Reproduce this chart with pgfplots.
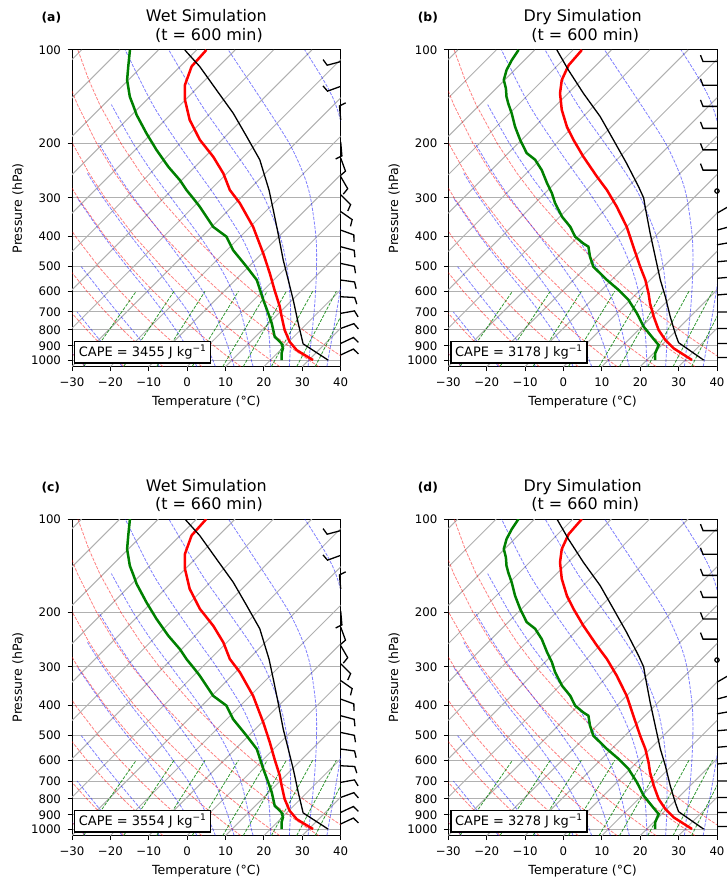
\documentclass[border=0pt]{standalone}
\usepackage{fontspec}
\setmainfont{DejaVu Sans}
\usepackage{pgfplots}
\usepackage{pgfplotstable}
\pgfplotsset{compat=1.18}

\definecolor{gridgray}{RGB}{176,176,176}
\definecolor{mplgreen}{RGB}{0,128,0}

% wind barb: shaft along +x, one feather at the tip
\pgfdeclareplotmark{barb}{%
  \pgfpathmoveto{\pgfpointorigin}%
  \pgfpathlineto{\pgfpoint{14bp}{0bp}}%
  \pgfpathlineto{\pgfpoint{16.5bp}{-6.5bp}}%
  \pgfusepathqstroke}

% skew-T: isotherms at 45 degrees, plotted x = T + 35.08*ln(1050/p)
\pgfplotsset{
  dryad/.style={red, opacity=0.5, line width=0.8bp, dash pattern=on 3.2bp off 1.4bp},
  moistad/.style={blue, opacity=0.5, line width=0.8bp, dash pattern=on 3.2bp off 1.4bp, smooth},
  mixr/.style={mplgreen, opacity=0.8, line width=0.8bp, dash pattern=on 3.2bp off 1.4bp},
  barbs/.style={scatter, only marks, mark=barb, point meta=explicit symbolic,
    mark options={black, solid, line width=1.3bp},
    scatter/@pre marker code/.code={\pgfscope\pgftransformrotate{\pgfplotspointmeta}},
    scatter/@post marker code/.code={\endpgfscope}},
  skewt/.style={scale only axis, width=268.7bp, height=316.6bp, anchor=south west,
    clip mode=individual,
    xmin=-30, xmax=40, ymin=100, ymax=1050, y dir=reverse,
    xtick={-30,-20,...,40}, xticklabels={−30,−20,−10,0,10,20,30,40},
    ytick={100,200,300,400,500,600,700,800,900,1000},
    yticklabels={100,200,300,400,500,600,700,800,900,1000},
    yminorticks=false, ymajorgrids, grid style={gridgray, line width=1bp},
    tick align=outside, xtick pos=left, ytick pos=left,
    major tick length=4.5bp, tick style={black, line width=1bp},
    axis line style={line width=1bp},
    tick label style={font=\fontsize{11.8}{14}\selectfont},
    xticklabel style={yshift=-3bp}, yticklabel style={xshift=-3bp},
    xlabel={Temperature (°C)}, ylabel={Pressure (hPa)},
    xlabel style={at={(axis description cs:0.5,-0.1105)}, anchor=center, font=\fontsize{12.6}{15}\selectfont},
    ylabel style={at={(axis description cs:-0.201,0.5)}, anchor=center, font=\fontsize{12.6}{15}\selectfont},
  },
}
\tikzset{
  capebox/.style={draw, line width=1.3bp, fill=white, anchor=south west, inner sep=0pt,
    minimum width=136bp, minimum height=21.6bp, xshift=2bp, yshift=3bp,
    font=\fontsize{13}{15}\selectfont},
  titletext/.style={anchor=base, font=\fontsize{16}{19}\selectfont},
  paneltag/.style={anchor=base west, xshift=-34bp, yshift=28bp,
    font=\bfseries\fontsize{12.4}{14}\selectfont},
}

% pressure levels, f = (p/1000)^0.2857, for the dry adiabats
\pgfplotstableread{
p f
1050 1.01404
1000 1.0
950 0.98545
900 0.97035
850 0.95462
800 0.93824
700 0.90312
600 0.86422
500 0.82034
400 0.76968
300 0.70895
250 0.67296
200 0.63139
150 0.58156
125 0.55205
100 0.51795
}\levtab

\pgfplotstableread{
p
1050
100
}\edgetab

% mixing ratio lines (0.4 ... 32 g/kg): dew point in degC
\pgfplotstableread{
p a b c d e f g h i
1050 -27.0 -16.55 -7.95 1.29 9.27 14.61 21.94 28.54 33.36
600 -32.9 -23.05 -14.96 -6.26 1.23 6.22 13.08 19.24 23.73
}\mixtab

% moist adiabats from -30,-20,-10,0,5,...,40 degC at 1000 hPa
\pgfplotstableread{
p a b c d e f g h i j k l
1050 -26.5 -16.9 -7.25 2.53 7.35 12.25 17.2 21.77 26.62 31.5 36.4 41.3
1000 -30 -20 -10 0 5 10 15 20 25 30 35 40
950 -33.35 -23.5 -13.0 -2.85 2.35 7.7 12.9 18.1 23.3 28.4 33.5 nan
850 nan -30.6 -19.95 -8.9 -3.3 2.45 8.25 13.99 19.52 24.97 30.32 nan
700 nan -42.9 -32.45 -20.47 -13.96 -7.15 -0.25 6.39 12.73 18.84 24.70 30.34
600 nan nan -42.2 -30.03 -23.29 -15.55 -7.85 -0.08 7.07 13.83 20.19 nan
500 nan nan -53.6 -41.65 -34.4 -26.3 -17.5 -8.39 -0.05 7.69 14.76 21.25
400 nan nan nan -55.5 -48.4 -40.0 -30.5 -19.75 -9.61 -0.30 7.91 nan
300 nan nan nan -72.6 -65.8 -57.85 -48.1 -36.28 -23.83 -11.80 -1.46 7.13
250 nan nan nan nan -76.3 -68.6 -59.25 -47.24 -34.07 -20.11 -7.91 nan
200 nan nan nan nan nan -81.2 -72.25 -60.57 -47.38 -31.57 -16.59 -4.83
150 nan nan nan nan nan nan -88.0 -77.23 -64.59 -48.08 -29.57 -14.27
125 nan nan nan nan nan nan nan nan nan nan -39.14 nan
100 nan nan nan nan nan nan nan -98.62 -87.26 -71.76 -51.84 -30.06
}\moisttab

% ---- wet simulation profiles (degC)
\pgfplotstableread{
p T
1000 31.09
963 27.54
929 24.25
873 20.22
800 15.86
725 11.63
673 8.54
594 2.77
525 -2.78
453 -9.66
372 -19.21
312 -28.84
283 -34.86
250 -40.92
221 -47.87
195 -55.74
168 -63.63
145 -70.01
130 -73.89
113 -77.04
100 -77.49
}\Twet

\pgfplotstableread{
p T
1000 22.89
951 21.12
916 20.18
883 18.48
841 15.02
762 10.80
706 7.19
640 2.47
552 -4.41
500 -10.54
442 -18.39
400 -23.62
372 -29.61
320 -38.41
301 -42.24
283 -46.16
263 -50.45
238 -56.98
210 -64.45
186 -71.29
162 -78.72
152 -81.76
141.5 -85.24
125 -90.30
113 -93.54
100 -97.39
}\Dwet

\pgfplotstableread{
p T
1000 34.99
887 24.30
762 17.70
640 10.27
552 3.79
475 -2.81
390 -11.06
328 -18.38
283 -24.66
226 -34.96
190 -44.48
160 -53.99
134.6 -64.41
113 -74.94
100 -83.09
}\Pwet

% barbs: pressure, shaft direction (deg)
\pgfplotstableread{
p a
109 195
131 200
168 95
198 -85
223 -70
256 -60
293 -45
332 -35
381 -20
431 -15
488 -12
552 -8
625 -3
707 10
791 20
884 25
963 25
}\Bwet

% ---- dry simulation profiles (degC)
\pgfplotstableread{
p T
1000 31.79
916 23.88
861 19.55
800 15.26
725 10.53
657 6.11
610 3.12
552 -1.21
500 -6.04
431 -13.03
372 -19.91
320 -27.81
283 -34.66
256 -40.80
221 -49.47
195 -56.44
177 -61.55
156 -67.32
138 -72.08
125 -75.10
112 -77.18
100 -77.69
}\Tdry

\pgfplotstableread{
p T
1000 22.19
951 20.42
895 19.20
841 15.22
781 10.53
706 5.19
640 -0.43
594 -5.63
552 -11.21
500 -18.24
464 -21.74
431 -24.73
421 -26.85
400 -30.82
372 -34.61
345 -39.41
312 -44.74
290 -48.13
269 -52.03
244 -56.85
226 -61.26
215 -65.22
195 -70.34
177 -75.05
160 -79.49
148.6 -82.98
141.5 -85.14
133 -87.47
125 -90.20
116 -92.10
108 -93.28
100 -94.19
}\Ddry

\pgfplotstableread{
p T
1000 34.79
879 23.76
821 20.49
725 14.83
625 8.35
552 2.69
464 -4.74
390 -12.16
320 -20.41
300 -23.05
276 -27.30
232 -36.52
195 -46.04
164 -55.56
138 -65.98
116 -76.00
100 -84.19
}\Pdry

\pgfplotstableread{
p a
109 180
130 180
152 180
179 180
210 180
244 180
336 30
381 15
425 10
482 5
545 5
617 5
700 0
791 0
884 0
982 0
}\Bdry

\newcommand\skewbg{%
  \pgfplotsinvokeforeach{-110,-100,...,40}{%
    \addplot[gridgray, line width=1bp] table[x expr={##1+35.08*ln(1050/\thisrow{p})}, y=p]{\edgetab};}
  \pgfplotsinvokeforeach{-30,-20,...,40}{%
    \addplot[dryad] table[x expr={(##1+273.15)*\thisrow{f}-273.15+35.08*ln(1050/\thisrow{p})}, y=p]{\levtab};}
  \pgfplotsinvokeforeach{a,b,c,d,e,f,g,h,i,j,k,l}{%
    \addplot[moistad] table[x expr={\thisrow{##1}+35.08*ln(1050/\thisrow{p})}, y=p]{\moisttab};}
  \pgfplotsinvokeforeach{a,b,c,d,e,f,g,h,i}{%
    \addplot[mixr] table[x expr={\thisrow{##1}+35.08*ln(1050/\thisrow{p})}, y=p]{\mixtab};}
}
% one profile: #1 colour/width, #2 table
\newcommand\profile[2]{%
  \addplot[#1] table[x expr={\thisrow{T}+35.08*ln(1050/\thisrow{p})}, y=p]{#2};}

\begin{document}
\begin{tikzpicture}
\useasboundingbox (0,0) rectangle (727bp,877bp);

% (a)
\begin{axis}[ymode=log, skewt, at={(72bp,510.4bp)}]
\skewbg
\profile{red, line width=2.5bp}{\Twet}
\profile{mplgreen, line width=2.5bp}{\Dwet}
\profile{black, line width=1.3bp}{\Pwet}
\addplot[barbs] table[x expr=40, y=p, meta=a]{\Bwet};
\node[capebox] at (axis description cs:0,0) {CAPE = 3455 J kg\textsuperscript{−1}};
\node[titletext, yshift=28bp] at (axis description cs:0.5,1) {Wet Simulation};
\node[titletext, yshift=10bp] at (axis description cs:0.5,1) {\hspace*{0.32em}(t = 600 min)};
\node[paneltag] at (axis description cs:0,1) {(a)};
\end{axis}

% (b)
\begin{axis}[ymode=log, skewt, at={(448.3bp,510.4bp)}]
\skewbg
\profile{red, line width=2.5bp}{\Tdry}
\profile{mplgreen, line width=2.5bp}{\Ddry}
\profile{black, line width=1.3bp}{\Pdry}
\addplot[barbs] table[x expr=40, y=p, meta=a]{\Bdry};
\addplot[only marks, mark=o, mark size=2.2bp, mark options={black, line width=1.2bp}] coordinates {(40,285)};
\node[capebox] at (axis description cs:0,0) {CAPE = 3178 J kg\textsuperscript{−1}};
\node[titletext, yshift=28bp] at (axis description cs:0.5,1) {Dry Simulation};
\node[titletext, yshift=10bp] at (axis description cs:0.5,1) {\hspace*{0.32em}(t = 600 min)};
\node[paneltag] at (axis description cs:0,1) {(b)};
\end{axis}

% (c)
\begin{axis}[ymode=log, skewt, at={(72bp,41.4bp)}]
\skewbg
\profile{red, line width=2.5bp}{\Twet}
\profile{mplgreen, line width=2.5bp}{\Dwet}
\profile{black, line width=1.3bp}{\Pwet}
\addplot[barbs] table[x expr=40, y=p, meta=a]{\Bwet};
\node[capebox] at (axis description cs:0,0) {CAPE = 3554 J kg\textsuperscript{−1}};
\node[titletext, yshift=28bp] at (axis description cs:0.5,1) {Wet Simulation};
\node[titletext, yshift=10bp] at (axis description cs:0.5,1) {\hspace*{0.32em}(t = 660 min)};
\node[paneltag] at (axis description cs:0,1) {(c)};
\end{axis}

% (d)
\begin{axis}[ymode=log, skewt, at={(448.3bp,41.4bp)}]
\skewbg
\profile{red, line width=2.5bp}{\Tdry}
\profile{mplgreen, line width=2.5bp}{\Ddry}
\profile{black, line width=1.3bp}{\Pdry}
\addplot[barbs] table[x expr=40, y=p, meta=a]{\Bdry};
\addplot[only marks, mark=o, mark size=2.2bp, mark options={black, line width=1.2bp}] coordinates {(40,285)};
\node[capebox] at (axis description cs:0,0) {CAPE = 3278 J kg\textsuperscript{−1}};
\node[titletext, yshift=28bp] at (axis description cs:0.5,1) {Dry Simulation};
\node[titletext, yshift=10bp] at (axis description cs:0.5,1) {\hspace*{0.32em}(t = 660 min)};
\node[paneltag] at (axis description cs:0,1) {(d)};
\end{axis}
\end{tikzpicture}
\end{document}
